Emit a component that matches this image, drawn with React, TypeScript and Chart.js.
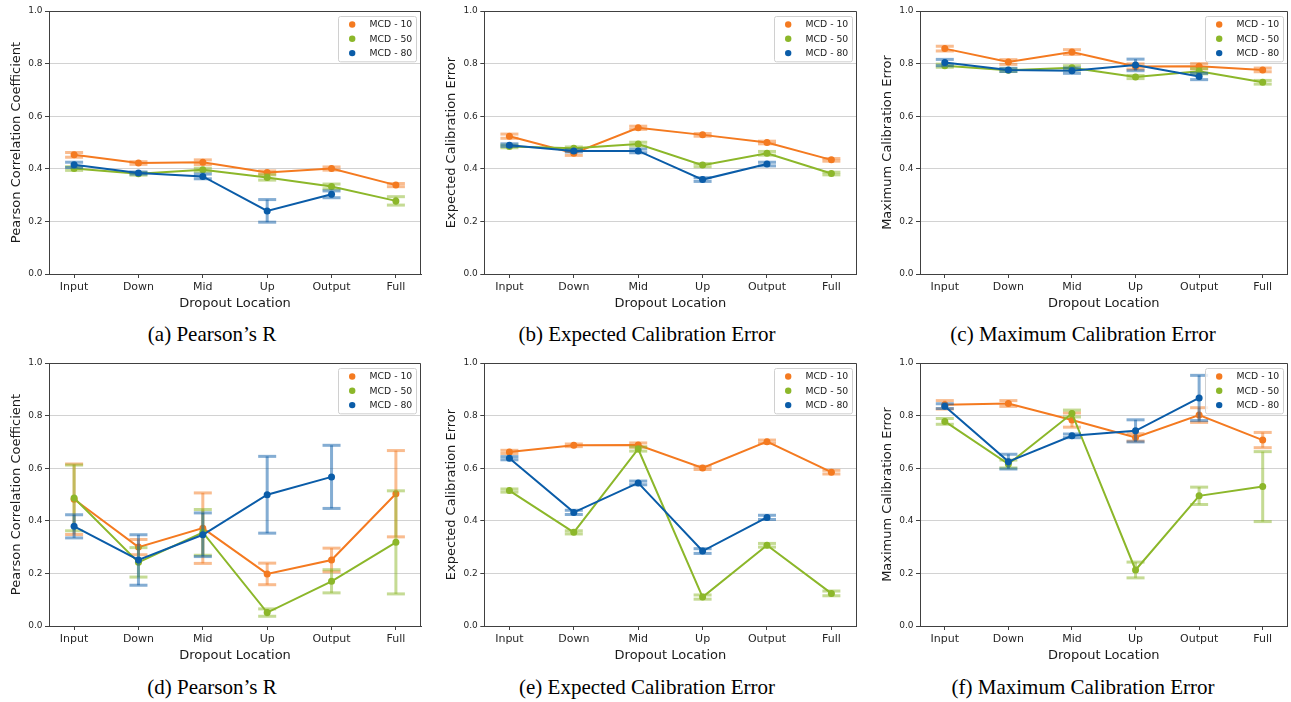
import React, { useEffect, useRef } from "react";
import { Chart, registerables } from "chart.js";

Chart.register(...registerables);

// ---------------- DATA ----------------
const CATEGORIES = ["Input", "Down", "Mid", "Up", "Output", "Full"];
const SERIES_LABELS = ["MCD - 10", "MCD - 50", "MCD - 80"];
const Y_TICK_VALUES = [0, 0.2, 0.4, 0.6, 0.8, 1.0];

// (a) Pearson's R
const A_MCD10 = [0.453, 0.422, 0.425, 0.386, 0.401, 0.338];
const A_MCD10_ERR = [0.009, 0.005, 0.009, 0.006, 0.006, 0.006];
const A_MCD50 = [0.401, 0.381, 0.396, 0.367, 0.333, 0.278];
const A_MCD50_ERR = [0.007, 0.005, 0.006, 0.010, 0.009, 0.016];
const A_MCD80 = [0.415, 0.384, 0.371, 0.240, 0.303];
const A_MCD80_ERR = [0.010, 0.004, 0.009, 0.043, 0.013];

// (b) Expected Calibration Error
const B_MCD10 = [0.524, 0.459, 0.556, 0.529, 0.500, 0.434];
const B_MCD10_ERR = [0.008, 0.008, 0.006, 0.005, 0.005, 0.005];
const B_MCD50 = [0.485, 0.478, 0.494, 0.414, 0.459, 0.382];
const B_MCD50_ERR = [0.005, 0.005, 0.007, 0.006, 0.007, 0.005];
const B_MCD80 = [0.490, 0.468, 0.468, 0.359, 0.418];
const B_MCD80_ERR = [0.005, 0.004, 0.007, 0.007, 0.007];

// (c) Maximum Calibration Error
const C_MCD10 = [0.857, 0.806, 0.844, 0.789, 0.790, 0.776];
const C_MCD10_ERR = [0.009, 0.009, 0.009, 0.010, 0.010, 0.007];
const C_MCD50 = [0.792, 0.775, 0.784, 0.749, 0.771, 0.729];
const C_MCD50_ERR = [0.006, 0.005, 0.008, 0.006, 0.010, 0.007];
const C_MCD80 = [0.804, 0.776, 0.773, 0.795, 0.751];
const C_MCD80_ERR = [0.012, 0.006, 0.010, 0.022, 0.012];

// (d) Pearson's R
const D_MCD10 = [0.482, 0.300, 0.372, 0.198, 0.251, 0.503];
const D_MCD10_ERR = [0.134, 0.029, 0.134, 0.041, 0.045, 0.164];
const D_MCD50 = [0.487, 0.242, 0.356, 0.051, 0.170, 0.318];
const D_MCD50_ERR = [0.125, 0.056, 0.087, 0.014, 0.044, 0.196];
const D_MCD80 = [0.379, 0.251, 0.347, 0.499, 0.567];
const D_MCD80_ERR = [0.044, 0.096, 0.083, 0.146, 0.120];

// (e) Expected Calibration Error
const E_MCD10 = [0.662, 0.687, 0.688, 0.601, 0.701, 0.585];
const E_MCD10_ERR = [0.006, 0.005, 0.008, 0.006, 0.006, 0.007];
const E_MCD50 = [0.515, 0.356, 0.673, 0.110, 0.307, 0.124];
const E_MCD50_ERR = [0.006, 0.006, 0.008, 0.008, 0.007, 0.009];
const E_MCD80 = [0.638, 0.432, 0.544, 0.285, 0.413];
const E_MCD80_ERR = [0.006, 0.008, 0.007, 0.009, 0.008];

// (f) Maximum Calibration Error
const F_MCD10 = [0.841, 0.846, 0.783, 0.717, 0.802, 0.707];
const F_MCD10_ERR = [0.016, 0.011, 0.027, 0.014, 0.028, 0.029];
const F_MCD50 = [0.778, 0.616, 0.808, 0.213, 0.495, 0.530];
const F_MCD50_ERR = [0.011, 0.015, 0.013, 0.030, 0.033, 0.133];
const F_MCD80 = [0.836, 0.625, 0.723, 0.742, 0.867];
const F_MCD80_ERR = [0.009, 0.028, 0.007, 0.042, 0.086];

// ---------------- STYLE ----------------
const SERIES_COLORS = ["#f47a20", "#8cb72a", "#0a5ca8"];
const FONT = "'DejaVu Sans', sans-serif";
const SPINE = "#404040";
const PANEL_H = 315;
const PLOT_TOP = 11;
const PLOT_BOTTOM = 274;

type Panel = {
  key: string;
  caption: string;
  yTitle: string;
  values: number[][];
  errors: number[][];
  left: number;
  top: number;
  width: number;
  plotLeft: number;
  plotRight: number;
  captionX: number;
  captionY: number;
};

const TOP_Y = 0;
const BOT_Y = 352;

const PANELS: Panel[] = [
  { key: "a", caption: "(a) Pearson\u2019s R", yTitle: "Pearson Correlation Coefficient",
    values: [A_MCD10, A_MCD50, A_MCD80], errors: [A_MCD10_ERR, A_MCD50_ERR, A_MCD80_ERR],
    left: 0, top: TOP_Y, width: 430, plotLeft: 49, plotRight: 421, captionX: 212, captionY: 334 },
  { key: "b", caption: "(b) Expected Calibration Error", yTitle: "Expected Calibration Error",
    values: [B_MCD10, B_MCD50, B_MCD80], errors: [B_MCD10_ERR, B_MCD50_ERR, B_MCD80_ERR],
    left: 430, top: TOP_Y, width: 430, plotLeft: 54.3, plotRight: 427, captionX: 647, captionY: 334 },
  { key: "c", caption: "(c) Maximum Calibration Error", yTitle: "Maximum Calibration Error",
    values: [C_MCD10, C_MCD50, C_MCD80], errors: [C_MCD10_ERR, C_MCD50_ERR, C_MCD80_ERR],
    left: 860, top: TOP_Y, width: 431, plotLeft: 60, plotRight: 431, captionX: 1083, captionY: 334 },
  { key: "d", caption: "(d) Pearson\u2019s R", yTitle: "Pearson Correlation Coefficient",
    values: [D_MCD10, D_MCD50, D_MCD80], errors: [D_MCD10_ERR, D_MCD50_ERR, D_MCD80_ERR],
    left: 0, top: BOT_Y, width: 430, plotLeft: 49, plotRight: 421, captionX: 212, captionY: 687 },
  { key: "e", caption: "(e) Expected Calibration Error", yTitle: "Expected Calibration Error",
    values: [E_MCD10, E_MCD50, E_MCD80], errors: [E_MCD10_ERR, E_MCD50_ERR, E_MCD80_ERR],
    left: 430, top: BOT_Y, width: 430, plotLeft: 54.3, plotRight: 427, captionX: 647, captionY: 687 },
  { key: "f", caption: "(f) Maximum Calibration Error", yTitle: "Maximum Calibration Error",
    values: [F_MCD10, F_MCD50, F_MCD80], errors: [F_MCD10_ERR, F_MCD50_ERR, F_MCD80_ERR],
    left: 860, top: BOT_Y, width: 431, plotLeft: 60, plotRight: 431, captionX: 1083, captionY: 687 },
];

// ---------------- PLUGINS ----------------
const errorBarPlugin = {
  id: "errorBars",
  beforeDatasetDraw(chart: any, args: any) {
    const ds: any = chart.data.datasets[args.index];
    const errs: number[] = ds.errors || [];
    const meta = args.meta;
    const yScale = chart.scales.y;
    const ctx = chart.ctx;
    ctx.save();
    ctx.globalAlpha = 0.5;
    ctx.strokeStyle = ds.borderColor;
    ctx.lineWidth = 3;
    ctx.lineCap = "butt";
    meta.data.forEach((pt: any, j: number) => {
      const v = ds.data[j].y;
      const e = errs[j] || 0;
      const yT = yScale.getPixelForValue(v + e);
      const yB = yScale.getPixelForValue(v - e);
      const x = pt.x;
      const cap = 9;
      ctx.beginPath();
      ctx.moveTo(x, yT);
      ctx.lineTo(x, yB);
      ctx.stroke();
      ctx.beginPath();
      ctx.moveTo(x - cap, yT);
      ctx.lineTo(x + cap, yT);
      ctx.stroke();
      ctx.beginPath();
      ctx.moveTo(x - cap, yB);
      ctx.lineTo(x + cap, yB);
      ctx.stroke();
    });
    ctx.restore();
  },
};

const framePlugin = {
  id: "frame",
  afterDatasetsDraw(chart: any) {
    const { left, right, top, bottom } = chart.chartArea;
    const ctx = chart.ctx;
    ctx.save();
    ctx.strokeStyle = SPINE;
    ctx.lineWidth = 1;
    ctx.beginPath();
    ctx.moveTo(Math.round(left) + 0.5, Math.round(top) + 0.5);
    ctx.lineTo(Math.round(right) - 0.5, Math.round(top) + 0.5);
    ctx.lineTo(Math.round(right) - 0.5, Math.round(bottom) + 0.5);
    ctx.stroke();
    ctx.restore();
  },
};

const legendPlugin = {
  id: "boxLegend",
  afterDraw(chart: any) {
    const { right, top } = chart.chartArea;
    const ctx = chart.ctx;
    const boxW = 78;
    const boxH = 45.3;
    const bx = Math.round(right - 5 - boxW) + 0.5;
    const by = Math.round(top + 4.7) + 0.5;
    ctx.save();
    ctx.beginPath();
    const r = 2;
    ctx.moveTo(bx + r, by);
    ctx.lineTo(bx + boxW - r, by);
    ctx.arcTo(bx + boxW, by, bx + boxW, by + r, r);
    ctx.lineTo(bx + boxW, by + boxH - r);
    ctx.arcTo(bx + boxW, by + boxH, bx + boxW - r, by + boxH, r);
    ctx.lineTo(bx + r, by + boxH);
    ctx.arcTo(bx, by + boxH, bx, by + boxH - r, r);
    ctx.lineTo(bx, by + r);
    ctx.arcTo(bx, by, bx + r, by, r);
    ctx.closePath();
    ctx.fillStyle = "rgba(255,255,255,0.8)";
    ctx.fill();
    ctx.strokeStyle = "#d0d0d0";
    ctx.lineWidth = 1;
    ctx.stroke();
    chart.data.datasets.forEach((ds: any, i: number) => {
      const cy = by + 8 + i * 14.3;
      ctx.beginPath();
      ctx.fillStyle = ds.borderColor;
      ctx.arc(bx + 13.7, cy, 3.2, 0, Math.PI * 2);
      ctx.fill();
      ctx.fillStyle = "#222";
      ctx.font = `9.3px ${FONT}`;
      ctx.textBaseline = "middle";
      ctx.textAlign = "left";
      ctx.fillText(ds.label, bx + 31, cy + 0.5);
    });
    ctx.restore();
  },
};

function buildConfig(p: Panel): any {
  const yTitleCenter = p.plotLeft - 32.8;
  return {
    type: "line",
    data: {
      datasets: p.values.map((vals, i) => ({
        label: SERIES_LABELS[i],
        data: vals.map((v, j) => ({ x: j, y: v })),
        errors: p.errors[i],
        borderColor: SERIES_COLORS[i],
        backgroundColor: SERIES_COLORS[i],
        borderWidth: 2,
        pointRadius: 3.5,
        pointBorderWidth: 0,
        pointHoverRadius: 3.5,
        tension: 0,
        fill: false,
        order: 2 - i,
      })),
    },
    options: {
      animation: false,
      responsive: false,
      maintainAspectRatio: false,
      events: [],
      layout: { padding: { left: 0, top: PLOT_TOP, right: p.width - p.plotRight, bottom: 0 } },
      plugins: {
        legend: { display: false },
        tooltip: { enabled: false },
        title: { display: false },
      },
      scales: {
        x: {
          type: "linear",
          min: -0.39,
          max: 5.39,
          afterBuildTicks: (s: any) => {
            s.ticks = CATEGORIES.map((_, i) => ({ value: i }));
          },
          afterFit: (s: any) => {
            s.height = PANEL_H - PLOT_BOTTOM;
          },
          ticks: {
            autoSkip: false,
            maxRotation: 0,
            padding: 3,
            color: "#262626",
            font: { family: FONT, size: 11 },
            callback: (v: any) => CATEGORIES[Math.round(v)] ?? "",
          },
          grid: { drawOnChartArea: false, drawTicks: true, tickLength: 4, tickColor: SPINE, tickWidth: 1 },
          border: { display: true, color: SPINE, width: 1 },
          title: {
            display: true,
            text: "Dropout Location",
            color: "#1a1a1a",
            font: { family: FONT, size: 13, lineHeight: 1.2 },
            padding: { top: 0, bottom: 3.9 },
          },
        },
        y: {
          type: "linear",
          min: 0,
          max: 1,
          afterBuildTicks: (s: any) => {
            s.ticks = Y_TICK_VALUES.map((v) => ({ value: v }));
          },
          afterFit: (s: any) => {
            s.width = p.plotLeft;
          },
          ticks: {
            padding: 2.5,
            color: "#262626",
            font: { family: FONT, size: 9 },
            callback: (v: any) => Number(v).toFixed(1),
          },
          grid: { color: "#d2d2d2", lineWidth: 1, tickColor: SPINE, tickLength: 4, drawTicks: true },
          border: { display: true, color: SPINE, width: 1 },
          title: {
            display: true,
            text: p.yTitle,
            color: "#1a1a1a",
            font: { family: FONT, size: 13, lineHeight: 1.2 },
            padding: { top: yTitleCenter - 7.8, bottom: 0 },
          },
        },
      },
    },
    plugins: [errorBarPlugin, framePlugin, legendPlugin],
  };
}

function ChartPanel({ panel }: { panel: Panel }) {
  const ref = useRef<HTMLCanvasElement | null>(null);
  useEffect(() => {
    if (!ref.current) return;
    const chart = new Chart(ref.current, buildConfig(panel));
    return () => chart.destroy();
  }, [panel]);
  return (
    <div style={{ position: "absolute", left: panel.left, top: panel.top, width: panel.width, height: PANEL_H }}>
      <canvas ref={ref} width={panel.width} height={PANEL_H} style={{ display: "block", width: panel.width, height: PANEL_H }} />
    </div>
  );
}

export default function App() {
  return (
    <div style={{ position: "absolute", left: 0, top: 0, width: 1291, height: 702, background: "#fff", overflow: "hidden" }}>
      {PANELS.map((p) => (
        <ChartPanel key={p.key} panel={p} />
      ))}
      {PANELS.map((p) => (
        <div
          key={"cap-" + p.key}
          style={{
            position: "absolute",
            left: p.captionX,
            top: p.captionY - 11,
            transform: "translateX(-50%)",
            whiteSpace: "nowrap",
            fontFamily: "'Liberation Serif', 'Times New Roman', serif",
            fontSize: 21,
            lineHeight: "22px",
            color: "#000",
          }}
        >
          {p.caption}
        </div>
      ))}
    </div>
  );
}
